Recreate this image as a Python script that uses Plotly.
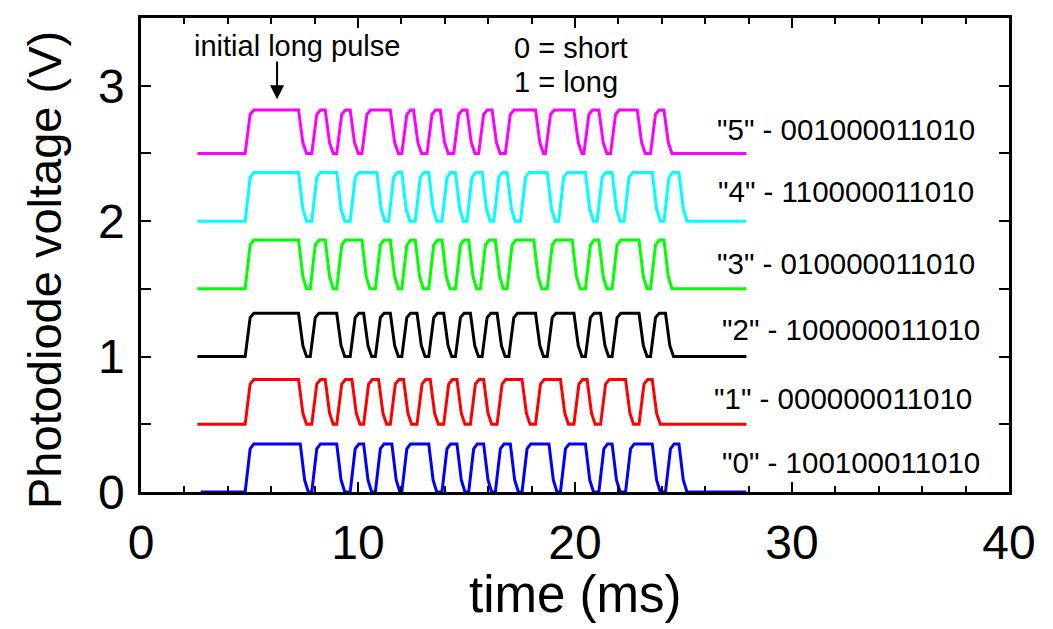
import plotly.graph_objects as go

# ---------------- data ----------------
labels = ['"0" - 100100011010', '"1" - 000000011010', '"2" - 100000011010',
          '"3" - 010000011010', '"4" - 110000011010', '"5" - 001000011010']
colors = ["#0000FF", "#FF0000", "#000000", "#00FF00", "#00FFFF", "#FF00FF"]
offsets = [0.0, 0.5, 1.0, 1.5, 2.0, 2.5]
amplitudes = [0.355, 0.33, 0.32, 0.36, 0.36, 0.32]
t_start = [2.75, 2.6, 2.6, 2.6, 2.6, 2.6]
t_end = [27.9, 27.9, 27.9, 27.9, 27.9, 27.9]

rise_0 = [4.80, 7.87, 9.64, 10.80, 12.02, 13.87, 15.10, 16.33, 17.56, 19.33, 21.10, 22.33, 24.17]
fall_0 = [7.34, 9.02, 10.26, 11.56, 13.26, 14.56, 15.79, 17.02, 18.80, 20.48, 21.71, 23.56, 24.79]
rise_1 = [4.80, 7.87, 9.02, 10.26, 11.49, 12.72, 13.95, 15.18, 16.41, 18.18, 19.95, 21.18, 22.95]
fall_1 = [7.26, 8.49, 9.72, 10.95, 12.10, 13.33, 14.56, 15.79, 17.56, 19.33, 20.56, 22.33, 23.56]
rise_2 = [4.80, 7.80, 9.64, 10.80, 12.02, 13.26, 14.49, 15.72, 16.95, 18.72, 20.48, 21.71, 23.48]
fall_2 = [7.26, 9.02, 10.26, 11.49, 12.72, 13.95, 15.18, 16.41, 18.18, 19.95, 21.18, 22.95, 24.17]
rise_3 = [4.80, 7.80, 9.02, 10.80, 12.02, 13.26, 14.49, 15.64, 16.87, 18.72, 20.48, 21.71, 23.48]
fall_3 = [7.26, 8.49, 10.18, 11.49, 12.64, 13.87, 15.10, 16.33, 18.10, 19.87, 21.10, 22.95, 24.10]
rise_4 = [4.80, 7.87, 9.64, 11.41, 12.64, 13.87, 15.02, 16.26, 17.49, 19.25, 21.02, 22.26, 24.10]
fall_4 = [7.26, 9.02, 10.87, 12.02, 13.26, 14.49, 15.72, 16.87, 18.72, 20.48, 21.71, 23.56, 24.79]
rise_5 = [4.80, 7.87, 9.02, 10.18, 12.02, 13.18, 14.41, 15.56, 16.79, 18.64, 20.41, 21.64, 23.48]
fall_5 = [7.26, 8.49, 9.64, 11.49, 12.56, 13.79, 15.02, 16.18, 18.18, 19.95, 21.10, 22.87, 24.10]
rises = [rise_0, rise_1, rise_2, rise_3, rise_4, rise_5]
falls = [fall_0, fall_1, fall_2, fall_3, fall_4, fall_5]

# label positions (time, voltage) of the code annotations
label_t = [32.7, 32.35, 32.7, 32.5, 32.5, 32.5]
label_v = [0.22, 0.69, 1.20, 1.69, 2.22, 2.68]

x_ticks = [0, 10, 20, 30, 40]
y_ticks = [0, 1, 2, 3]

FONT = "Liberation Sans, Arial, sans-serif"


def waveform(i):
    o, a = offsets[i], amplitudes[i]
    xs, ys = [t_start[i]], [o]
    for r, f in zip(rises[i], falls[i]):
        xs += [r, r + 0.23, r + 0.40, f, f + 0.20, f + 0.37]
        ys += [o, o + 0.9 * a, o + a, o + a, o + 0.25 * a, o]
    xs.append(t_end[i])
    ys.append(o)
    return xs, ys


fig = go.Figure()
for i in range(6):
    xs, ys = waveform(i)
    fig.add_trace(go.Scatter(x=xs, y=ys, mode="lines",
                             line=dict(color=colors[i], width=3),
                             showlegend=False, hoverinfo="skip"))

for i in range(6):
    fig.add_annotation(x=label_t[i], y=label_v[i], text=labels[i], showarrow=False,
                       font=dict(family=FONT, size=29.5, color="black"),
                       xanchor="center", yanchor="middle")

fig.add_annotation(x=7.2, y=3.29, text="initial long pulse", showarrow=False,
                   font=dict(family=FONT, size=29, color="black"),
                   xanchor="center", yanchor="middle")
fig.add_annotation(x=6.27, y=2.90, ax=6.27, ay=3.19, xref="x", yref="y",
                   axref="x", ayref="y", text="", showarrow=True,
                   arrowhead=2, arrowsize=1.4, arrowwidth=2, arrowcolor="black")
fig.add_annotation(x=17.1, y=3.28, text="0 = short", showarrow=False,
                   font=dict(family=FONT, size=29, color="black"),
                   xanchor="left", yanchor="middle")
fig.add_annotation(x=17.1, y=3.03, text="1 = long", showarrow=False,
                   font=dict(family=FONT, size=29, color="black"),
                   xanchor="left", yanchor="middle")

# axis titles
fig.add_annotation(x=0.5, y=0, xref="paper", yref="paper", yshift=-102,
                   text="time (ms)", showarrow=False,
                   font=dict(family=FONT, size=51, color="black"),
                   xanchor="center", yanchor="middle")
fig.add_annotation(x=0, y=0.5, xref="paper", yref="paper", xshift=-97, yshift=-15,
                   text="Photodiode voltage (V)", textangle=-90, showarrow=False,
                   font=dict(family=FONT, size=47, color="black"),
                   xanchor="center", yanchor="middle")

fig.update_layout(
    width=1053, height=629,
    margin=dict(l=133, r=52, t=7, b=145),
    paper_bgcolor="white", plot_bgcolor="white",
    font=dict(family=FONT, color="black"),
    showlegend=False,
)
fig.update_xaxes(
    range=[0, 40], tickvals=x_ticks, ticktext=[str(v) for v in x_ticks],
    ticks="inside", ticklen=10, tickwidth=2, tickcolor="black",
    minor=dict(dtick=2, ticks="inside", ticklen=6, tickwidth=1.5, tickcolor="black"),
    showline=True, linecolor="black", linewidth=2.5, mirror="ticks",
    showgrid=False, zeroline=False,
    tickfont=dict(family=FONT, size=48, color="black"), ticklabelstandoff=7,
)
fig.update_yaxes(
    range=[0, 3.5], tickvals=y_ticks, ticktext=[str(v) for v in y_ticks],
    ticks="inside", ticklen=10, tickwidth=2, tickcolor="black",
    minor=dict(dtick=0.5, ticks="inside", ticklen=10, tickwidth=1.5, tickcolor="black"),
    showline=True, linecolor="black", linewidth=2.5, mirror="ticks",
    showgrid=False, zeroline=False,
    tickfont=dict(family=FONT, size=48, color="black"), ticklabelstandoff=4,
)

fig.write_html("out.html")
